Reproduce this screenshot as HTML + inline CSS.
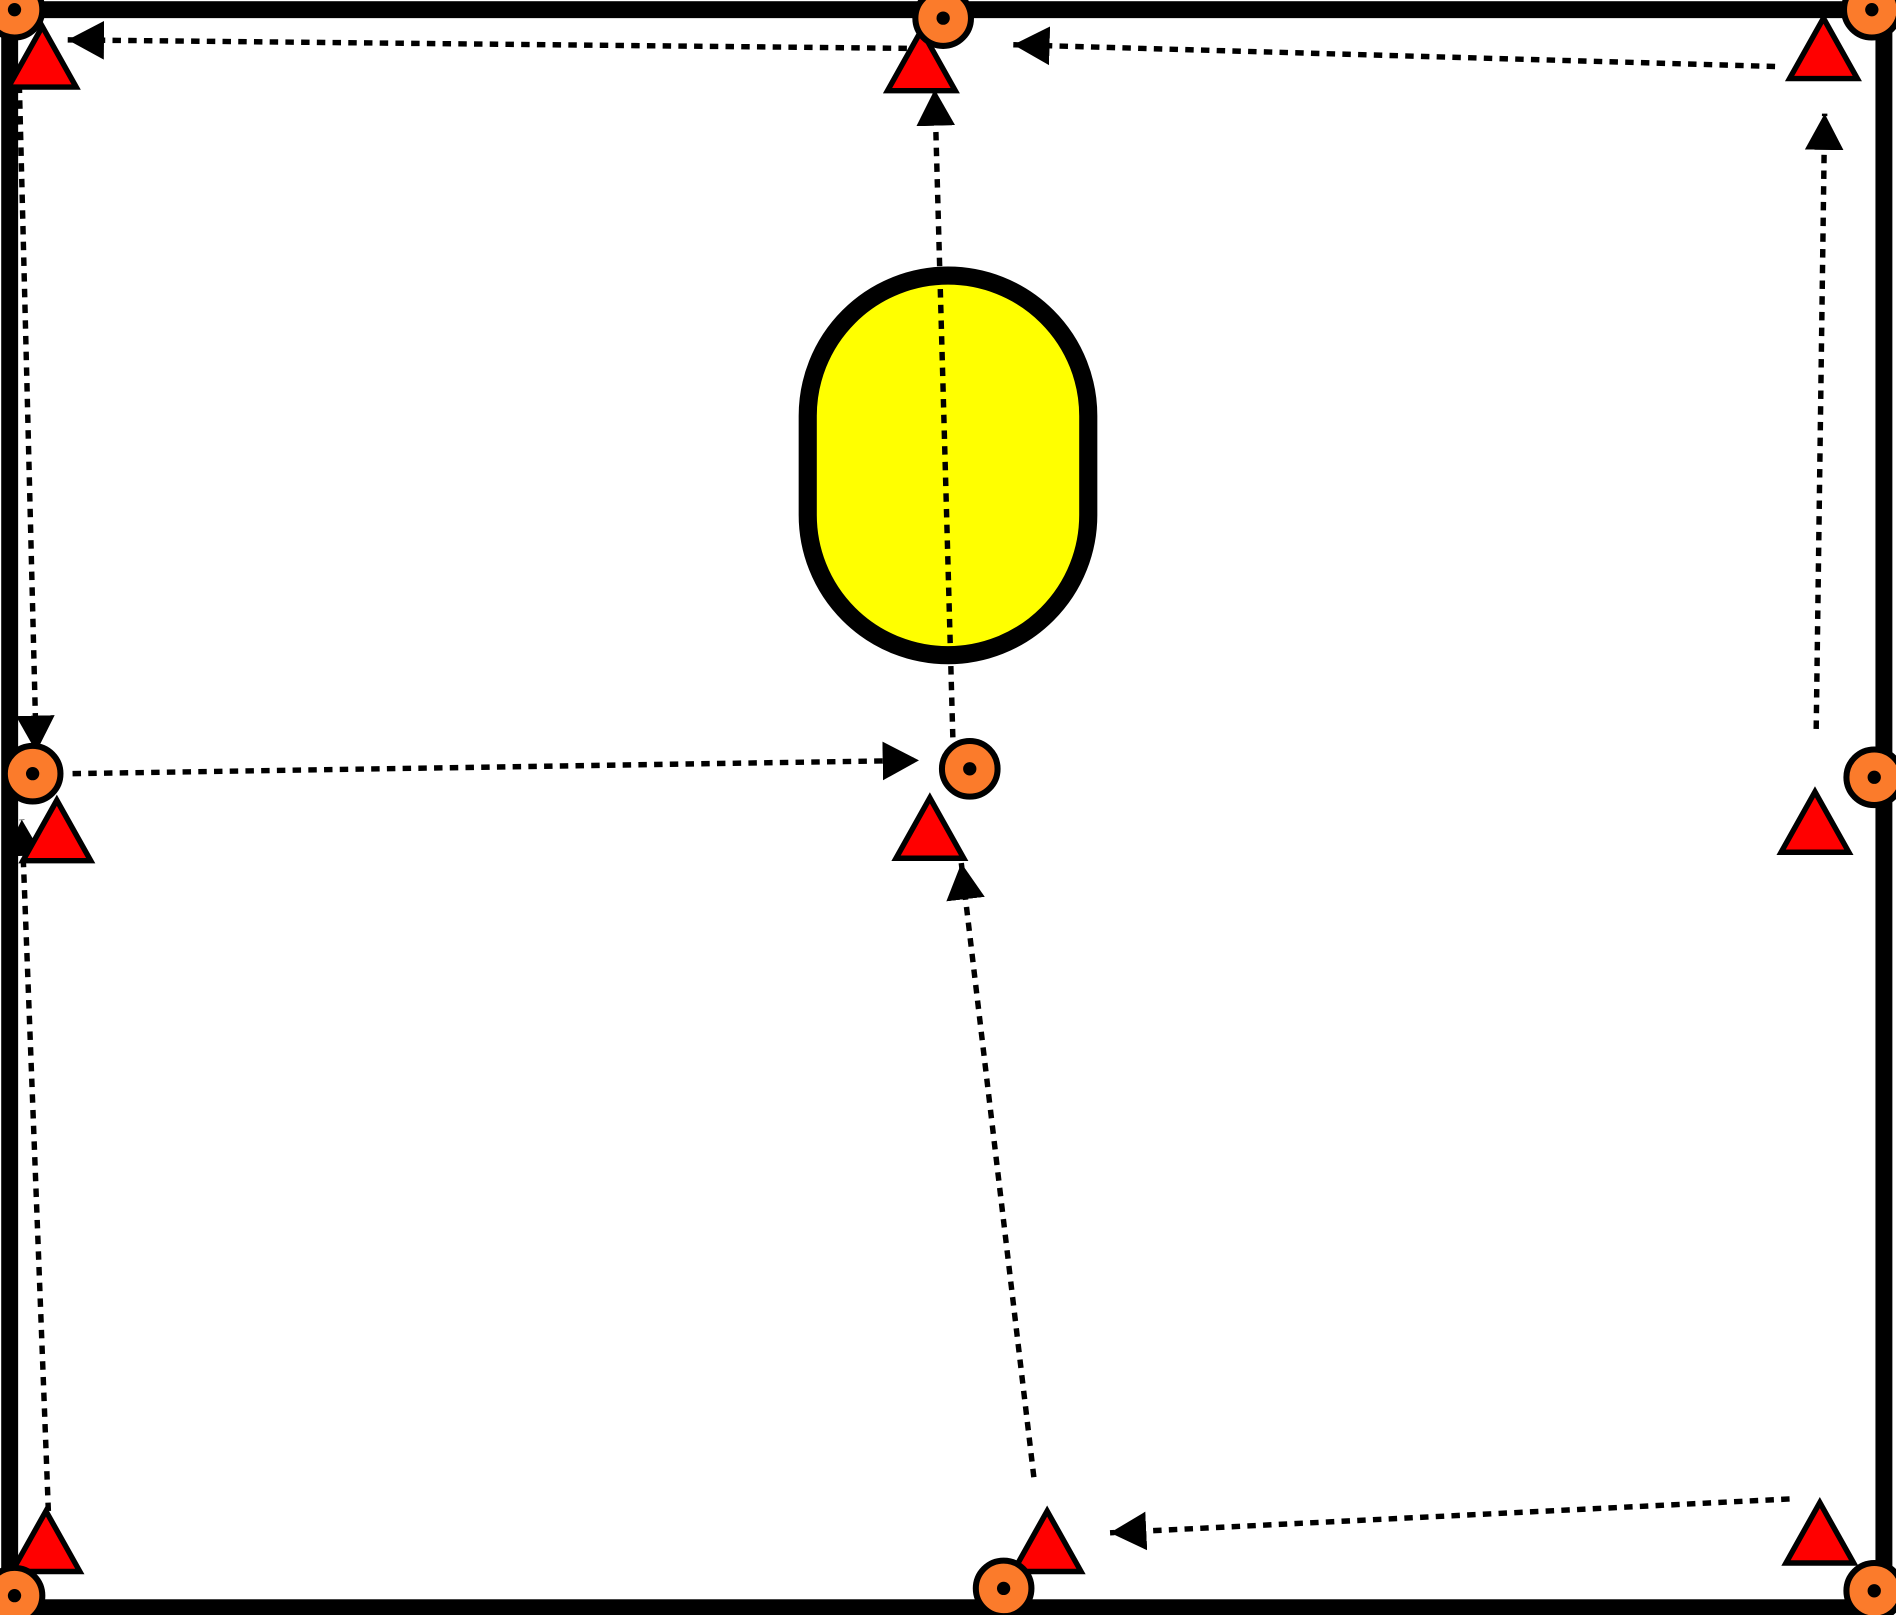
<!DOCTYPE html>
<html><head><meta charset="utf-8"><style>
html,body{margin:0;padding:0;background:#fff;}
svg{display:block;}
</style></head><body>
<svg width="1896" height="1615" viewBox="0 0 1568 1336" preserveAspectRatio="none" xmlns="http://www.w3.org/2000/svg">
<defs>
<marker id="ah" markerWidth="32" markerHeight="34" refX="30" refY="17" orient="auto" markerUnits="userSpaceOnUse">
<path d="M0,1 L30,17 L0,33 Z" fill="#000"/>
</marker>
<g id="oc"><circle r="23" fill="#fb7b2b" stroke="#000" stroke-width="5"/><circle r="5.5" fill="#000"/></g>
<g id="tr"><path d="M0,0 L28,50 L-28,50 Z" fill="#f00" stroke="#000" stroke-width="4.5" stroke-linejoin="miter"/></g>
</defs>
<rect x="8" y="8" width="1550" height="1322" fill="none" stroke="#000" stroke-width="14"/>
<path d="M668,344 A116,116 0 0 1 900,344 L900,426 A116,116 0 0 1 668,426 Z" fill="#ff0" stroke="#000" stroke-width="15"/>
<g fill="none" stroke="#000" stroke-width="4.5" stroke-dasharray="7 6" marker-end="url(#ah)">
<line x1="750" y1="40" x2="56" y2="33"/>
<line x1="1468" y1="55" x2="838" y2="37"/>
<line x1="1502" y1="603" x2="1509" y2="94"/>
<line x1="788" y1="610" x2="773" y2="74"/>
<line x1="16" y1="70" x2="30" y2="622"/>
<line x1="60" y1="640" x2="760" y2="629"/>
<line x1="40" y1="1250" x2="18" y2="678"/>
<line x1="855" y1="1222" x2="795" y2="714"/>
<line x1="1480" y1="1240" x2="918" y2="1268"/>
</g>
<use href="#tr" x="35" y="22"/>
<use href="#tr" x="762" y="25"/>
<use href="#tr" x="1508" y="15"/>
<use href="#tr" x="47" y="662"/>
<use href="#tr" x="769" y="660"/>
<use href="#tr" x="1501" y="655"/>
<use href="#tr" x="38" y="1250"/>
<use href="#tr" x="866" y="1250"/>
<use href="#tr" x="1505" y="1243"/>
<use href="#oc" x="12" y="8"/>
<use href="#oc" x="780" y="15"/>
<use href="#oc" x="1548" y="8"/>
<use href="#oc" x="27" y="640"/>
<use href="#oc" x="802" y="636"/>
<use href="#oc" x="1550" y="643"/>
<use href="#oc" x="12" y="1320"/>
<use href="#oc" x="830" y="1314"/>
<use href="#oc" x="1550" y="1316"/>
</svg>
</body></html>
